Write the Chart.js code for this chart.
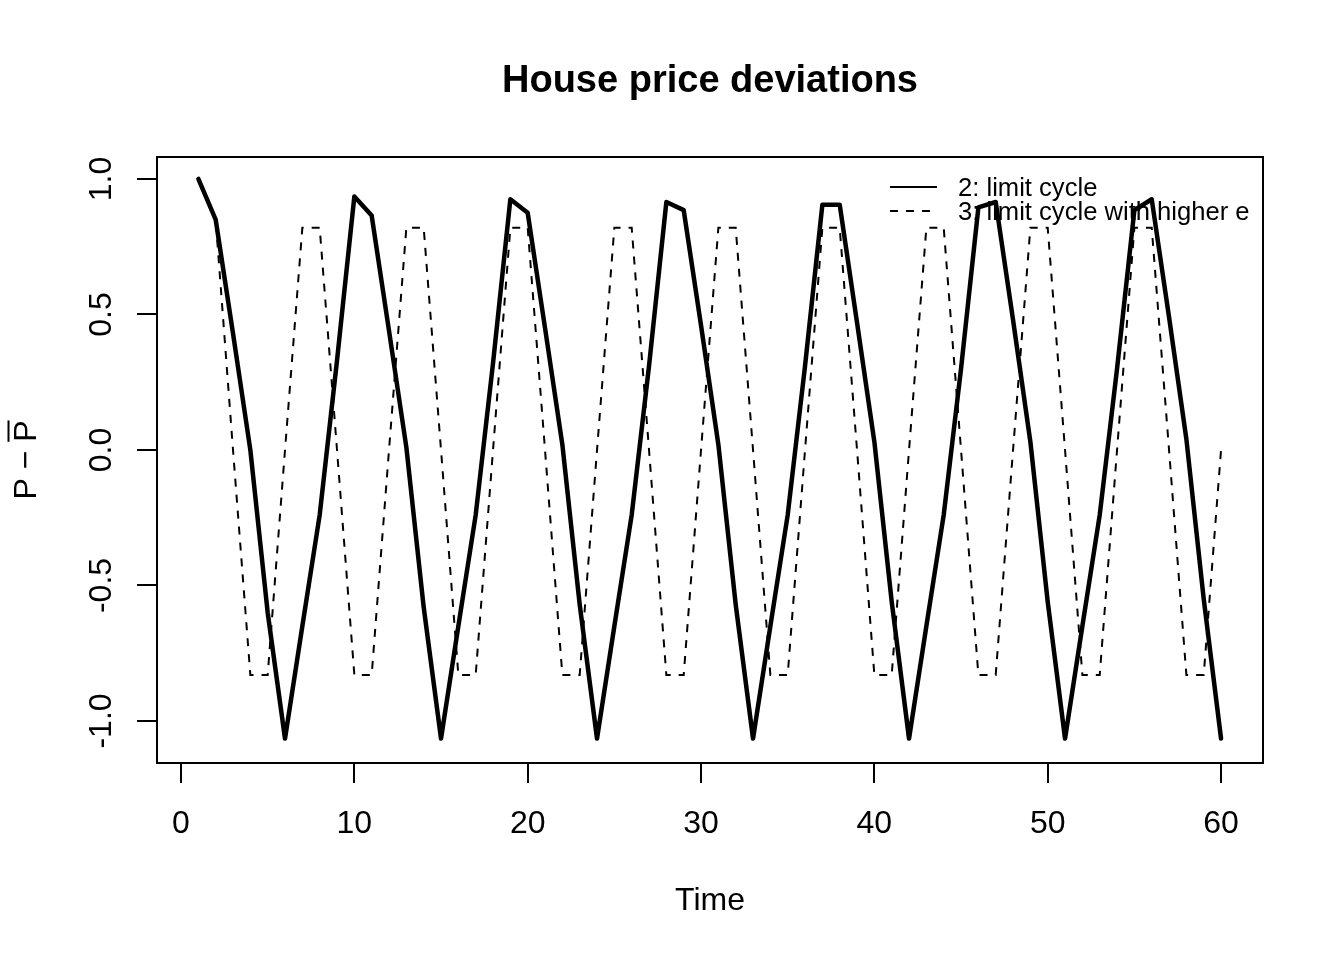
<!DOCTYPE html>
<html>
<head>
<meta charset="utf-8">
<title>House price deviations</title>
<script src="https://cdn.jsdelivr.net/npm/chart.js@4.4.1/dist/chart.umd.min.js"></script>
<style>
  html, body { margin: 0; padding: 0; background: #fff; }
  canvas { display: block; }
</style>
</head>
<body>
<canvas id="chart" width="1344" height="960"></canvas>
<script>
// data
const time = [1, 2, 3, 4, 5, 6, 7, 8, 9, 10,
              11, 12, 13, 14, 15, 16, 17, 18, 19, 20,
              21, 22, 23, 24, 25, 26, 27, 28, 29, 30,
              31, 32, 33, 34, 35, 36, 37, 38, 39, 40,
              41, 42, 43, 44, 45, 46, 47, 48, 49, 50,
              51, 52, 53, 54, 55, 56, 57, 58, 59, 60];

const limitCycle = [1.00, 0.85, 0.43, 0.00, -0.60, -1.065, -0.65, -0.24, 0.33, 0.935,
                    0.865, 0.44, 0.01, -0.58, -1.065, -0.65, -0.24, 0.32, 0.925, 0.875,
                    0.45, 0.02, -0.57, -1.065, -0.65, -0.24, 0.31, 0.915, 0.885, 0.46,
                    0.02, -0.57, -1.065, -0.65, -0.24, 0.31, 0.905, 0.905, 0.47, 0.03,
                    -0.56, -1.065, -0.65, -0.24, 0.30, 0.895, 0.915, 0.48, 0.03, -0.56,
                    -1.065, -0.65, -0.24, 0.30, 0.885, 0.925, 0.49, 0.04, -0.55, -1.065];

const higherE = [1.00, 0.85, 0.00, -0.83, -0.83, 0.00, 0.82, 0.82, 0.00, -0.83,
                 -0.83, 0.00, 0.82, 0.82, 0.00, -0.83, -0.83, 0.00, 0.82, 0.82,
                 0.00, -0.83, -0.83, 0.00, 0.82, 0.82, 0.00, -0.83, -0.83, 0.00,
                 0.82, 0.82, 0.00, -0.83, -0.83, 0.00, 0.82, 0.82, 0.00, -0.83,
                 -0.83, 0.00, 0.82, 0.82, 0.00, -0.83, -0.83, 0.00, 0.82, 0.82,
                 0.00, -0.83, -0.83, 0.00, 0.82, 0.82, 0.00, -0.83, -0.83, 0.00];

const seriesNames = ['2: limit cycle', '3: limit cycle with higher e'];
const xTicks = [0, 10, 20, 30, 40, 50, 60];
const yTicks = [-1.0, -0.5, 0.0, 0.5, 1.0];

const FONT = '"Liberation Sans", Arial, Helvetica, sans-serif';

function toPoints(values) {
    return time.map((t, i) => ({ x: t, y: values[i] }));
}

// title, axis labels, y tick labels, legend and the box, R style
const decorations = {
    id: 'decorations',
    afterDraw(chart) {
        const ctx = chart.ctx;
        const area = chart.chartArea;
        const yScale = chart.scales.y;
        const midX = (area.left + area.right) / 2;
        const midY = (area.top + area.bottom) / 2;

        ctx.save();
        ctx.strokeStyle = '#000';
        ctx.lineWidth = 2;
        ctx.strokeRect(area.left, area.top, area.right - area.left, area.bottom - area.top);

        ctx.fillStyle = '#000';
        ctx.textAlign = 'center';
        ctx.textBaseline = 'middle';
        ctx.font = 'bold 38px ' + FONT;
        ctx.fillText('House price deviations', midX, 82);

        ctx.font = '32px ' + FONT;
        ctx.fillText('Time', midX, 901);

        // y tick labels, parallel to the axis
        yTicks.forEach(v => {
            ctx.save();
            ctx.translate(102, yScale.getPixelForValue(v));
            ctx.rotate(-Math.PI / 2);
            ctx.fillText(v.toFixed(1), 0, 0);
            ctx.restore();
        });

        // y axis label: P - P with a bar over the second P
        ctx.save();
        ctx.translate(24, midY);
        ctx.rotate(-Math.PI / 2);
        ctx.textAlign = 'left';
        ctx.textBaseline = 'alphabetic';
        const label = 'P \u2212 P';
        const w = ctx.measureText(label).width;
        const x0 = -w / 2;
        const base = 11.5;
        ctx.fillText(label, x0, base);
        const barStart = x0 + ctx.measureText('P \u2212 ').width;
        const barEnd = barStart + ctx.measureText('P').width;
        ctx.lineWidth = 2;
        ctx.beginPath();
        ctx.moveTo(barStart, base - 27);
        ctx.lineTo(barEnd, base - 27);
        ctx.stroke();
        ctx.restore();

        // legend, no box
        ctx.font = '25.6px ' + FONT;
        ctx.textAlign = 'left';
        ctx.textBaseline = 'middle';
        const rows = [187, 211];
        chart.data.datasets.forEach((ds, i) => {
            ctx.save();
            ctx.lineWidth = 2;
            ctx.strokeStyle = '#000';
            ctx.setLineDash(ds.borderDash || []);
            ctx.beginPath();
            ctx.moveTo(890, rows[i]);
            ctx.lineTo(937, rows[i]);
            ctx.stroke();
            ctx.restore();
            ctx.fillText(seriesNames[i], 958, rows[i] + 2);
        });

        ctx.restore();
    }
};

new Chart(document.getElementById('chart'), {
    type: 'line',
    data: {
        datasets: [{
            label: seriesNames[0],
            data: toPoints(limitCycle),
            borderColor: '#000',
            borderWidth: 4.5,
            borderJoinStyle: 'round',
            borderCapStyle: 'round',
            pointRadius: 0,
            tension: 0,
            fill: false,
            order: 1
        }, {
            label: seriesNames[1],
            data: toPoints(higherE),
            borderColor: '#000',
            borderWidth: 2,
            borderDash: [8, 8],
            pointRadius: 0,
            tension: 0,
            fill: false,
            order: 0
        }]
    },
    options: {
        responsive: false,
        animation: false,
        devicePixelRatio: 1,
        layout: { padding: { top: 157, right: 81, left: 0, bottom: 0 } },
        plugins: {
            legend: { display: false },
            title: { display: false },
            tooltip: { enabled: false }
        },
        scales: {
            x: {
                type: 'linear',
                min: -1.385,
                max: 62.42,
                afterBuildTicks: scale => { scale.ticks = xTicks.map(v => ({ value: v })); },
                afterFit: scale => { scale.height = 197; },
                border: { display: false },
                grid: {
                    drawOnChartArea: false,
                    drawTicks: true,
                    tickLength: 20,
                    color: '#000',
                    lineWidth: 2
                },
                ticks: {
                    color: '#000',
                    font: { family: FONT, size: 32 },
                    padding: 22,
                    maxRotation: 0,
                    autoSkip: false
                }
            },
            y: {
                type: 'linear',
                min: -1.155,
                max: 1.081,
                afterBuildTicks: scale => { scale.ticks = yTicks.map(v => ({ value: v })); },
                afterFit: scale => { scale.width = 157; },
                border: { display: false },
                grid: {
                    drawOnChartArea: false,
                    drawTicks: true,
                    tickLength: 20,
                    color: '#000',
                    lineWidth: 2
                },
                ticks: { display: false }
            }
        }
    },
    plugins: [decorations]
});
</script>
</body>
</html>
